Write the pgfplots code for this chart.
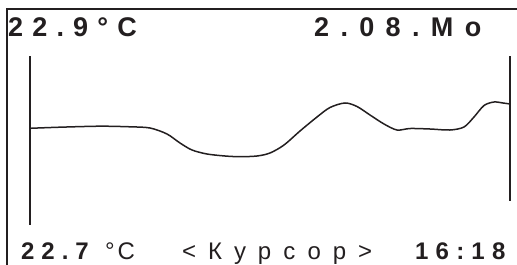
\documentclass[border=0pt]{standalone}
\usepackage{fontspec}
\setmainfont{Liberation Sans}
\usepackage{pgfplots}
\pgfplotsset{compat=1.18}
\definecolor{ink}{RGB}{35,31,32}
\begin{document}
\begin{tikzpicture}
\begin{axis}[
  at={(0pt,0pt)}, anchor=south west,
  width=517pt, height=265pt, scale only axis,
  hide axis, clip=false,
  xmin=0, xmax=517, ymin=0, ymax=265, y dir=reverse,
]
% frame
\addplot[ink, line width=1.8pt] coordinates {(7.3,265) (7.3,8.7) (517,8.7)};
% cursor lines
\addplot[ink, line width=2pt] coordinates {(30,56) (30,225)};
\addplot[ink, line width=2pt] coordinates {(510,56) (510,201)};
% curve
\addplot[ink, line width=1.5pt, smooth, tension=0.5] coordinates {
(30,128.3) (60,127.2) (100,126.2) (130,126.8) (150,128) (167,134) (180,143) (192,150)
(207,154) (225,156) (240,156.7) (257,156) (270,153) (284,145) (300,131)
(317,117) (330,107.5) (345,103) (357,106.5) (370,115) (384,124) (397,130)
(410,128.5) (430,129) (450,130) (464,127) (474,117) (484,105.5) (494,102)
(503,103) (510,104)};
% texts
\node[anchor=base west, inner sep=0pt, text=ink, font=\fontsize{27}{27}\selectfont\bfseries\addfontfeature{LetterSpace=34}] at (axis cs:8,36) {22.9°C};
\node[anchor=base west, inner sep=0pt, text=ink, font=\fontsize{27}{27}\selectfont\bfseries\addfontfeature{LetterSpace=42}] at (axis cs:314,36) {2.08.Mo};
\node[anchor=base west, inner sep=0pt, text=ink, font=\fontsize{24}{24}\selectfont\bfseries\addfontfeature{LetterSpace=29}] at (axis cs:21,259) {22.7};
\node[anchor=base west, inner sep=0pt, text=ink, font=\fontsize{24}{24}\selectfont\addfontfeature{LetterSpace=12}] at (axis cs:105,259) {°C};
\node[anchor=base west, inner sep=0pt, text=ink, font=\fontsize{24}{24}\selectfont\addfontfeature{LetterSpace=50}] at (axis cs:182,259) {<Курсор>};
\node[anchor=base west, inner sep=0pt, text=ink, font=\fontsize{24}{24}\selectfont\bfseries\addfontfeature{LetterSpace=30}] at (axis cs:415,259) {16:18};
\end{axis}
\pgfresetboundingbox
\path (0pt,0pt) rectangle (517pt,265pt);
\end{tikzpicture}
\end{document}
